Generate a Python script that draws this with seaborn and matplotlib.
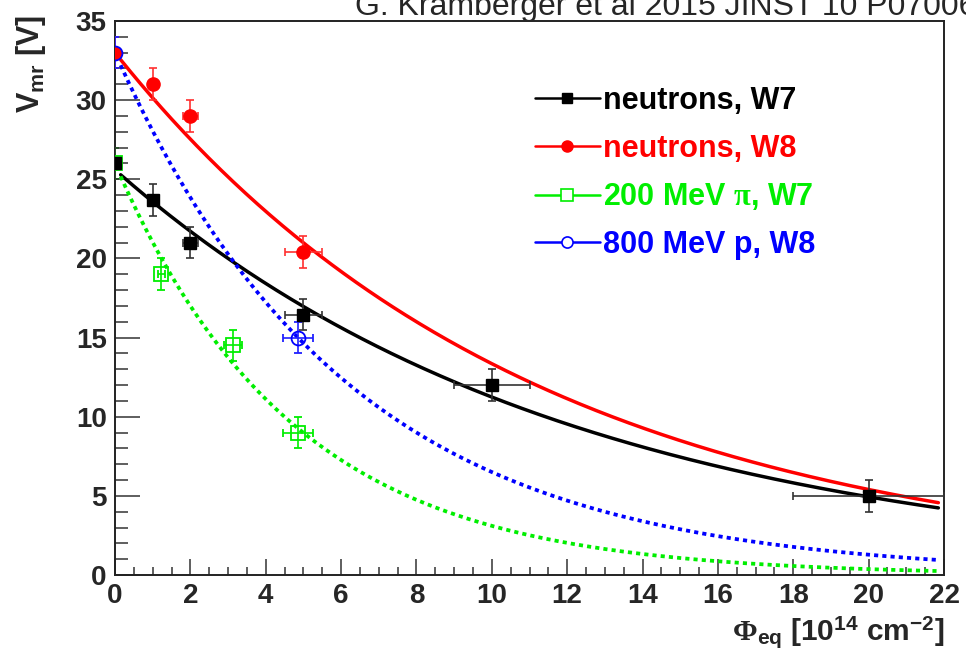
import numpy as np
import pandas as pd
import matplotlib
matplotlib.use("Agg")
import matplotlib.pyplot as plt
import seaborn as sns
from matplotlib.lines import Line2D
from matplotlib.ticker import MultipleLocator

# ---------------- data ----------------
n7_x = [0, 1, 2, 5, 10, 20]
n7_y = [26.0, 23.7, 21.0, 16.45, 12.0, 5.0]
n7_xerr = [0, 0.1, 0.2, 0.5, 1.0, 2.0]
n7_yerr = [1, 1, 1, 1, 1, 1]

n8_x = [0, 1, 2, 5]
n8_y = [33.0, 31.0, 29.0, 20.4]
n8_xerr = [0, 0.05, 0.2, 0.5]
n8_yerr = [1, 1, 1, 1]

pi_x = [0, 1.23, 3.13, 4.85]
pi_y = [26.0, 19.0, 14.5, 9.0]
pi_xerr = [0, 0.1, 0.25, 0.4]
pi_yerr = [1, 1, 1, 1]

p_x = [0, 4.85]
p_y = [33.0, 15.0]
p_xerr = [0, 0.4]
p_yerr = [1, 1]

series_labels = ["neutrons, W7", "neutrons, W8", r"200 MeV $\pi$, W7", "800 MeV p, W8"]
series_colors = ["#000000", "#ff0000", "#00ee00", "#0000ff"]

# exponential fit parameters V = V0 * exp(-k * Phi)
fit_v0 = [25.6, 33.0, 26.0, 33.0]
fit_k = [0.0823, 0.0905, 0.2125, 0.1624]
fit_style = ["solid", "solid", "dotted", "dotted"]
fit_range = [0.15, 21.85]

x_ticks = [0, 2, 4, 6, 8, 10, 12, 14, 16, 18, 20, 22]
y_ticks = [0, 5, 10, 15, 20, 25, 30, 35]

# ---------------- style ----------------
sns.set_theme(style="white")
plt.rcParams["font.family"] = ["Liberation Sans", "DejaVu Sans"]
plt.rcParams.update({
    "font.weight": "bold",
    "mathtext.fontset": "custom",
    "mathtext.rm": "Liberation Serif",
    "mathtext.it": "Liberation Serif",
    "mathtext.bf": "Liberation Sans:bold",
    "mathtext.sf": "Liberation Sans:bold",
})

W, H = 966, 651
fig = plt.figure(figsize=(W / 100, H / 100), dpi=100)
ax = fig.add_axes([115 / W, 1 - 575 / H, (944 - 115) / W, (575 - 21) / H])

# ---------------- fit curves ----------------
phi = np.linspace(fit_range[0], fit_range[1], 400)
for v0, k, ls, col in zip(fit_v0, fit_k, fit_style, series_colors):
    df = pd.DataFrame({"phi": phi, "V": v0 * np.exp(-k * phi)})
    if ls == "solid":
        sns.lineplot(data=df, x="phi", y="V", color=col, lw=2.5, ax=ax,
                     estimator=None, sort=False, zorder=2)
    else:
        sns.lineplot(data=df, x="phi", y="V", color=col, lw=2.7, ax=ax,
                     estimator=None, sort=False, zorder=2,
                     linestyle=(0, (1.1, 1.1)), dash_capstyle="butt")

# ---------------- data points ----------------
eb = dict(elinewidth=1.2, capsize=3, capthick=1.2, ls="none", zorder=4)
ax.errorbar(n8_x, n8_y, xerr=n8_xerr, yerr=n8_yerr, color="#ff0000", ecolor="#ff3030",
            marker="o", ms=9.5, mfc="#ff0000", mec="#ff0000", **eb)
ax.errorbar(p_x, p_y, xerr=p_xerr, yerr=p_yerr, color="#0000ff", ecolor="#2020ff",
            marker="o", ms=10, mfc="none", mec="#0000ff", mew=1.3, **eb)
ax.errorbar(pi_x, pi_y, xerr=pi_xerr, yerr=pi_yerr, color="#00ee00", ecolor="#00ee00",
            marker="s", ms=10.5, mfc="none", mec="#00ee00", mew=1.3, **eb)
ax.errorbar(n7_x, n7_y, xerr=n7_xerr, yerr=n7_yerr, color="#000000", ecolor="#333333",
            marker="s", ms=8.5, mfc="#000000", mec="#000000", **eb)

# ---------------- axes ----------------
ax.set_xlim(0, 22)
ax.set_ylim(0, 35)
ax.set_xticks(x_ticks)
ax.set_yticks(y_ticks)
ax.xaxis.set_minor_locator(MultipleLocator(0.5))
ax.yaxis.set_minor_locator(MultipleLocator(1))
ax.tick_params(axis="x", which="major", direction="in", length=11.5, width=1.1,
               color="#333333", labelsize=20, pad=6, top=False, bottom=True)
ax.tick_params(axis="x", which="minor", direction="in", length=5.8, width=1.1,
               color="#333333", top=False, bottom=True)
ax.tick_params(axis="y", which="major", direction="in", length=18, width=1.1,
               color="#333333", labelsize=20, pad=6, left=True, right=False)
ax.tick_params(axis="y", which="minor", direction="in", length=9, width=1.1,
               color="#333333", left=True, right=False)
ax.set_xlabel("")
ax.set_ylabel("")
for s in ax.spines.values():
    s.set_visible(True)
    s.set_linewidth(1.4)
    s.set_color("#222222")

# ---------------- labels ----------------
fig.text(31 / W, 1 - 15 / H, r"$\mathbf{V_{mr}}$ [V]", rotation=90, ha="center",
         va="top", fontsize=22, fontweight="bold")
fig.text(944 / W, 1 - 641 / H, r"$\Phi_{\mathbf{eq}}$ [10$^{\mathbf{14}}$ cm$^{\mathbf{-2}}$]",
         ha="right", va="baseline", fontsize=21.5, fontweight="bold")
fig.text(355 / W, 1 - 15 / H, "G. Kramberger et al 2015 JINST 10 P07006",
         ha="left", va="baseline", fontsize=23, fontweight="normal")

# ---------------- legend ----------------
handles = [
    Line2D([], [], color="#000000", lw=1.8, marker="s", ms=7.5, mfc="#000000"),
    Line2D([], [], color="#ff0000", lw=1.8, marker="o", ms=8, mfc="#ff0000"),
    Line2D([], [], color="#00ee00", lw=1.8, marker="s", ms=8, mfc="white", mew=1.2),
    Line2D([], [], color="#0000ff", lw=1.8, marker="o", ms=8, mfc="white", mew=1.2),
]
leg = ax.legend(handles, series_labels, loc="upper left",
                bbox_to_anchor=(535 / W, 1 - 86 / H), bbox_transform=fig.transFigure,
                frameon=False, handlelength=2.12, handletextpad=0.1, labelspacing=0.58,
                borderpad=0, borderaxespad=0, fontsize=22)
for txt, col in zip(leg.get_texts(), series_colors):
    txt.set_color(col)
    txt.set_fontweight("bold")

fig.savefig("out.png", dpi=100)
